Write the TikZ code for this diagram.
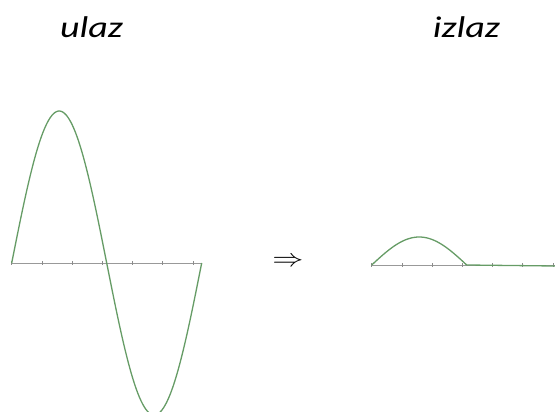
\documentclass[tikz,border=0pt]{standalone}
\usepackage{fontspec}
\setmainfont{Carlito}
\usepackage{tikz}

\begin{document}
\begin{tikzpicture}[
  x=1pt, y=-1pt,
  axis/.style={draw=black!40, line width=0.9pt},
  tick/.style={draw=black!45, line width=0.7pt},
  wave/.style={draw=green!35!black!60, line width=1.3pt},
  label/.style={font=\fontsize{30}{36}\selectfont\itshape, anchor=base, xscale=1.27}
]
  \useasboundingbox (0,0) rectangle (555,412);
  \clip (0,0) rectangle (555,412);

  % ulaz
  \draw[axis] (11.7,263) -- (202,263);
  \foreach \k in {0,...,6}
    \draw[tick] (11.7+30.2*\k,261) -- (11.7+30.2*\k,265);
  \draw[wave] plot[domain=0:190, samples=120, smooth] ({11.7+\x}, {263-152*sin(\x/190*360)});
  \node[label] (in) at (91.5,38) {ulaz};

  % izlaz
  \draw[axis] (371.7,265) -- (555,265);
  \foreach \k in {0,...,6}
    \draw[tick] (371.7+30.2*\k,263) -- (371.7+30.2*\k,267);
  \draw[wave] plot[domain=0:95, samples=60, smooth] ({371.7+\x}, {265-28*sin(\x/190*360)})
    -- (555,266);
  \node[label] (out) at (466.5,38) {izlaz};

  \node[font=\fontsize{24}{28}\selectfont, xscale=1.25] (arr) at (288,261.5) {$\Rightarrow$};
\end{tikzpicture}
\end{document}
